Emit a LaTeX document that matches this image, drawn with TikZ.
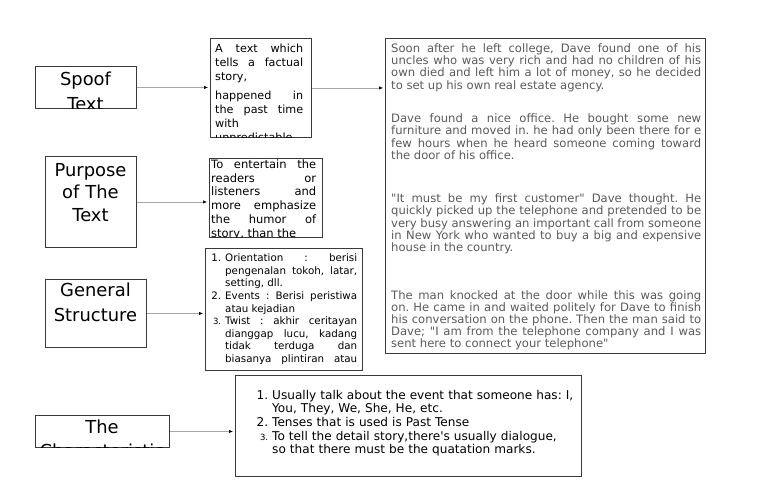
\documentclass[tikz,border=0pt]{standalone}
\usepackage{fontspec}
\setmainfont{DejaVu Sans}
\usepackage{enumitem}
\usetikzlibrary{arrows.meta}
\definecolor{SpLine}{HTML}{3A3A3A}
\definecolor{SpArrow}{HTML}{A8A8A8}
\definecolor{SpStory}{HTML}{5A5A5A}
\newcommand{\titlesize}{\fontsize{17.9}{23.5}\selectfont}
\newcommand{\factsize}{\fontsize{11.2}{14.1}\selectfont}
\newcommand{\aimsize}{\fontsize{11.5}{13.8}\selectfont}
\newcommand{\partsize}{\fontsize{10.3}{12.6}\selectfont}
\newcommand{\storysize}{\fontsize{11.6}{12.2}\selectfont}
\newcommand{\traitsize}{\fontsize{12.1}{13.6}\selectfont}
\newcommand{\smallnum}{\fontsize{8.5}{10}\selectfont}
\frenchspacing

\begin{document}
\begin{tikzpicture}[x=1pt,y=-1pt,
  box/.style={draw=SpLine,line width=0.9pt,inner sep=0pt,anchor=north west},
  title/.style={anchor=base,align=center,inner sep=0pt,text width=130pt,font=\titlesize},
  body/.style={anchor=base west,inner sep=0pt,align=justify},
  link/.style={draw=SpArrow,line width=0.6pt,-{Latex[length=4pt,width=3.5pt,color=black]},shorten >=2pt}]
\path[use as bounding box] (0,0) rectangle (768,503);

% boxes
\node[box,minimum width=101pt,minimum height=42pt] (spoof) at (35,66) {};
\node[box,minimum width=101pt,minimum height=99pt] (fact) at (210,38) {};
\node[box,minimum width=320pt,minimum height=315pt] (story) at (385,38) {};
\node[box,minimum width=91pt,minimum height=91pt] (purpose) at (45,156) {};
\node[box,minimum width=113pt,minimum height=79pt] (aim) at (209,158) {};
\node[box,minimum width=101pt,minimum height=68pt] (general) at (45,279) {};
\node[box,minimum width=157pt,minimum height=122pt] (parts) at (205,248) {};
\node[box,minimum width=134pt,minimum height=32pt] (trait) at (35,415) {};
\node[box,minimum width=346pt,minimum height=101pt] (traitlist) at (235,375) {};

% texts, cut off by their boxes
\begin{scope}
\clip (spoof.south west) rectangle (spoof.north east);
\node[title] (spooftext) at (85.5,85) {Spoof\\[1.5pt]Text};
\end{scope}
\begin{scope}
\clip (fact.south west) rectangle (fact.north east);
\node[body,text width=88pt,font=\factsize] (facttext) at (215,52.3) {A text which\linebreak tells a factual\linebreak story,\\[4.5pt] happened in\linebreak the past time\linebreak with\\ unpredictable};
\end{scope}
\begin{scope}
\clip (story.south west) rectangle (story.north east);
\node[body,text width=310pt,text=SpStory,font=\storysize] (storytext) at (391,52.5) {%
Soon after he left college, Dave found one of his\linebreak uncles who was very rich and had no children of his\linebreak own died and left him a lot of money, so he decided\linebreak to set up his own real estate agency.\par
\vspace{21.4pt}
Dave found a nice office. He bought some new\linebreak furniture and moved in. he had only been there for e\linebreak few hours when he heard someone coming toward\linebreak the door of his office.\par
\vspace{31.2pt}
\textquotedbl It must be my first customer\textquotedbl{} Dave thought. He\linebreak quickly picked up the telephone and pretended to be\linebreak very busy answering an important call from someone\linebreak in New York who wanted to buy a big and expensive\linebreak house in the country.\par
\vspace{35.3pt}
The man knocked at the door while this was going\linebreak on. He came in and waited politely for Dave to finish\linebreak his conversation on the phone. Then the man said to\linebreak Dave; \textquotedbl I am from the telephone company and I was\linebreak sent here to connect your telephone\textquotedbl};
\end{scope}
\begin{scope}
\clip (purpose.south west) rectangle (purpose.north east);
\node[title] (purposetext) at (90.5,176) {Purpose\\[-0.7pt]of The\\[-0.7pt]Text};
\end{scope}
\begin{scope}
\clip (aim.south west) rectangle (aim.north east);
\node[body,text width=105pt,font=\aimsize] (aimtext) at (211,168.3) {\parfillskip=0pt To entertain the\linebreak readers or\linebreak listeners and\linebreak more emphasize\linebreak the humor of\linebreak story, than the};
\end{scope}
\begin{scope}
\clip (general.south west) rectangle (general.north east);
\node[title] (generaltext) at (95.5,296.7) {General\\[1.5pt]Structure};
\end{scope}
\begin{scope}
\clip (parts.south west) rectangle (parts.north east);
\node[body,text width=147pt,font=\partsize] (partstext) at (210,249.1) {%
\begin{enumerate}[leftmargin=15pt,labelsep=4pt,itemsep=0pt,topsep=0pt,parsep=0pt,partopsep=0pt,label=\arabic*.]
\item Orientation : berisi\linebreak pengenalan tokoh, latar,\linebreak setting, dll.
\item Events : Berisi peristiwa\linebreak atau kejadian
\item[{\smallnum 3.}] Twist : akhir ceritayan\linebreak dianggap lucu, kadang\linebreak tidak terduga dan\linebreak biasanya plintiran atau\linebreak
\end{enumerate}};
\end{scope}
\begin{scope}
\clip (trait.south west) rectangle (trait.north east);
\node[title] (traittext) at (102,433.3) {The\\[0.5pt]Characteristic};
\end{scope}
\node[body,align=left,text width=320pt,font=\traitsize] (traitlisttext) at (257,385.7) {%
\begin{enumerate}[leftmargin=15pt,labelsep=4pt,itemsep=0pt,topsep=0pt,parsep=0pt,partopsep=0pt,label=\arabic*.]
\item Usually talk about the event that someone has: I,\newline You, They, We, She, He, etc.
\item Tenses that is used is Past Tense
\item[{\smallnum 3.}] To tell the detail story,there\textquotesingle s usually dialogue,\newline so that there must be the quatation marks.
\end{enumerate}};

% connectors
\draw[link] (spoof.east) -- (spoof.east -| fact.west);
\draw[link] (fact.east) -- (fact.east -| story.west);
\draw[link] (purpose.east) -- (purpose.east -| aim.west);
\draw[link] (general.east) -- (general.east -| parts.west);
\draw[link] (trait.east) -- (trait.east -| traitlist.west);
\end{tikzpicture}
\end{document}
